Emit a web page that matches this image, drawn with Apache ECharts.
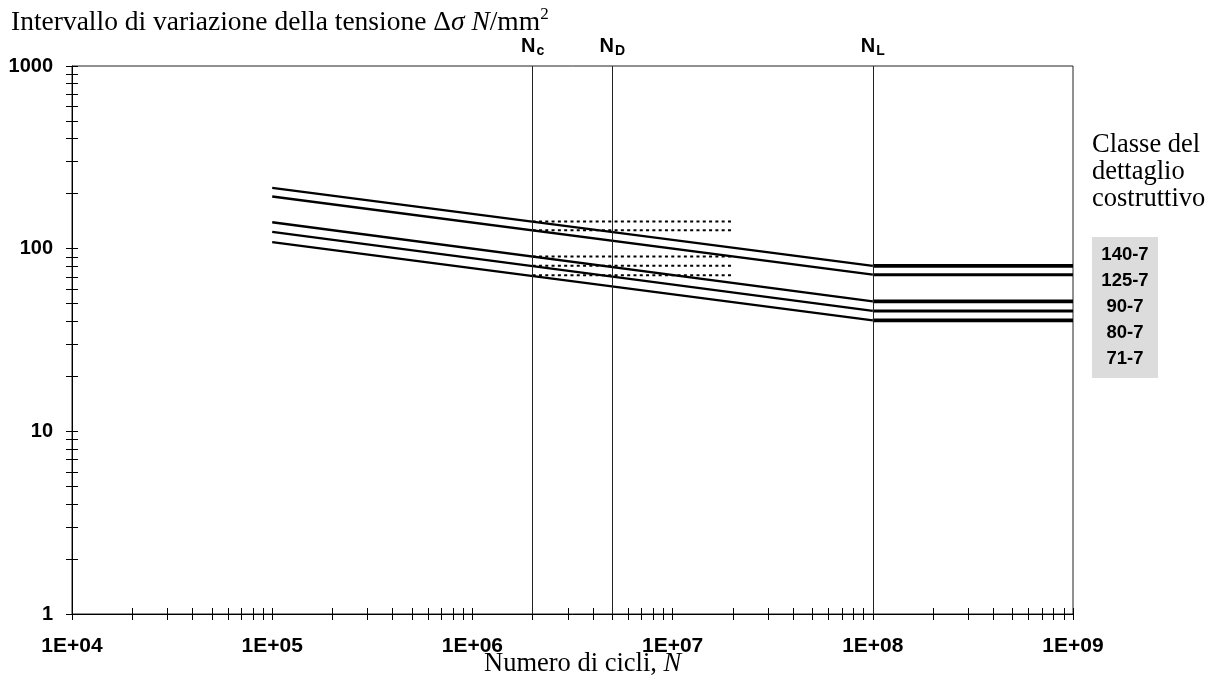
<!DOCTYPE html>
<html><head><meta charset="utf-8">
<script src="https://cdn.jsdelivr.net/npm/echarts@6/dist/echarts.min.js"></script>
<style>html,body{margin:0;padding:0;background:#fff}#c{width:1214px;height:687px}</style>
</head><body><div id="c"></div>
<script>
// ---- data ----
const classes = ['140-7', '125-7', '90-7', '80-7', '71-7'];
const cycleStart = 1e5;
const cycleKnee = 1e8;
const cycleEnd = 1e9;
const stressAtStart = [215, 193, 139.5, 123.5, 108.5];
const stressAtKnee = [80.5, 72, 51.5, 45.6, 40.5];
const refCycles = [2e6, 2e7];
const refStress = [141, 126, 90.5, 80.5, 71.5];
const limitNames = ['c', 'D', 'L'];
const limitCycles = [2e6, 5e6, 1e8];
const xTickLabels = ['1E+04', '1E+05', '1E+06', '1E+07', '1E+08', '1E+09'];
const yTickLabels = ['1', '10', '100', '1000'];
const xDecades = [1e4, 1e5, 1e6, 1e7, 1e8];
const yDecades = [1, 10, 100];
const subMultipliers = [1, 2, 3, 4, 5, 6, 7, 8, 9];

// ---- build ----
const SANS = "'Liberation Sans', Arial, sans-serif";
const SERIF = "'Liberation Serif', 'Times New Roman', serif";
function minorTicks(decades, last) {
  const out = [];
  decades.forEach(d => subMultipliers.forEach(m => out.push(Math.log10(d * m))));
  out.push(Math.log10(last));
  return out;
}
const xMinorLog = minorTicks(xDecades, 1e9);
const yMinorLog = minorTicks(yDecades, 1000);

const rect = { left: 72, right: 141, top: 66, bottom: 73 };
const hideAll = { axisLabel: { show: false }, splitLine: { show: false }, axisLine: { show: false, onZero: false } };
function tickAxis(kind, grid, inside) {
  const ax = Object.assign({ type: 'value', gridIndex: grid }, hideAll);
  if (kind === 'x') { ax.min = 4; ax.max = 9; ax.axisTick = { show: true, inside, length: 6, customValues: xMinorLog, lineStyle: { color: '#000', width: 1 } }; }
  else { ax.min = 0; ax.max = 3; ax.axisTick = { show: true, inside, length: 6, customValues: yMinorLog, lineStyle: { color: '#000', width: 1 } }; }
  return ax;
}

const series = [];
classes.forEach((c, i) => {
  series.push({
    type: 'line', name: c + ' slope', xAxisIndex: 0, yAxisIndex: 0, symbol: 'none', silent: true,
    data: [[cycleStart, stressAtStart[i]], [cycleKnee, stressAtKnee[i]]],
    lineStyle: { color: '#000', width: 2.3 }
  });
  series.push({
    type: 'line', name: c + ' cutoff', xAxisIndex: 0, yAxisIndex: 0, symbol: 'none', silent: true,
    data: [[cycleKnee, stressAtKnee[i]], [cycleEnd, stressAtKnee[i]]],
    lineStyle: { color: '#000', width: i % 2 === 0 ? 3.8 : 3 }
  });
  series.push({
    type: 'line', name: c + ' ref', xAxisIndex: 0, yAxisIndex: 0, symbol: 'none', silent: true,
    data: [[refCycles[0], refStress[i]], [refCycles[1], refStress[i]]],
    lineStyle: { color: '#000', width: 2, type: [3, 3.3] }
  });
});
series.push({
  type: 'line', name: 'limits', xAxisIndex: 0, yAxisIndex: 0, data: [], silent: true,
  markLine: {
    silent: true, symbol: 'none', animation: false,
    lineStyle: { color: '#222', width: 1, type: 'solid' },
    label: {
      show: true, position: 'end', distance: 10,
      formatter: p => '{n|N}{s|' + p.name + '}',
      rich: {
        n: { fontFamily: SANS, fontWeight: 'bold', fontSize: 20, color: '#000' },
        s: { fontFamily: SANS, fontWeight: 'bold', fontSize: 14, lineHeight: 14, color: '#000', padding: [11, 0, 0, 1] }
      }
    },
    data: limitCycles.map((v, i) => ({ xAxis: v, name: limitNames[i] }))
  }
});

const graphic = [
  {
    type: 'text', x: 11, y: 6, silent: true,
    style: {
      text: '{a|Intervallo di variazione della tensione Δ}{i|σ N}{a|/mm}{s|2}',
      rich: {
        a: { fontFamily: SERIF, fontSize: 27.5, lineHeight: 33, fill: '#000' },
        i: { fontFamily: SERIF, fontSize: 27.5, lineHeight: 33, fontStyle: 'italic', fill: '#000' },
        s: { fontFamily: SERIF, fontSize: 17, lineHeight: 17, verticalAlign: 'top', fill: '#000' }
      }
    }
  },
  {
    type: 'text', x: 484, y: 651, silent: true,
    style: {
      text: '{a|Numero di cicli, }{i|N}',
      rich: {
        a: { fontFamily: SERIF, fontSize: 26.5, lineHeight: 26.5, fill: '#000' },
        i: { fontFamily: SERIF, fontSize: 26.5, lineHeight: 26.5, fontStyle: 'italic', fill: '#000' }
      }
    }
  },
  {
    type: 'text', x: 1092, y: 131, silent: true,
    style: { text: 'Classe del\ndettaglio\ncostruttivo', font: '26.5px ' + SERIF, lineHeight: 27.2, fill: '#000' }
  },
  {
    type: 'rect', x: 1092, y: 237, silent: true,
    shape: { width: 66, height: 141 }, style: { fill: '#dcdcdc' }
  }
].concat(classes.map((c, i) => ({
  type: 'text', x: 1125, y: 254.5 + 26.1 * i, silent: true, z: 10,
  style: { text: c, font: 'bold 18.5px ' + SANS, fill: '#000', align: 'center', verticalAlign: 'middle' }
})));

const option = {
  animation: false,
  backgroundColor: '#fff',
  grid: [
    Object.assign({ show: true, borderColor: '#222', borderWidth: 1, backgroundColor: 'transparent' }, rect),
    Object.assign({}, rect),
    Object.assign({}, rect)
  ],
  xAxis: [
    {
      type: 'log', logBase: 10, gridIndex: 0, min: 1e4, max: 1e9,
      axisLine: { show: true, onZero: false, lineStyle: { color: '#000', width: 1 } },
      axisTick: { show: false }, splitLine: { show: false },
      axisLabel: {
        fontFamily: SANS, fontWeight: 'bold', fontSize: 21, color: '#000', margin: 22,
        formatter: v => xTickLabels[Math.round(Math.log10(v)) - 4]
      }
    },
    tickAxis('x', 1, false),
    tickAxis('x', 2, true)
  ],
  yAxis: [
    {
      type: 'log', logBase: 10, gridIndex: 0, min: 1, max: 1000,
      axisLine: { show: true, onZero: false, lineStyle: { color: '#000', width: 1 } },
      axisTick: { show: false }, splitLine: { show: false },
      axisLabel: {
        fontFamily: SANS, fontWeight: 'bold', fontSize: 20, color: '#000', margin: 19,
        formatter: v => yTickLabels[Math.round(Math.log10(v))]
      }
    },
    tickAxis('y', 1, false),
    tickAxis('y', 2, true)
  ],
  series,
  graphic
};
const chart = echarts.init(document.getElementById('c'), null, { renderer: 'canvas' });
chart.setOption(option);
</script>
</body></html>
